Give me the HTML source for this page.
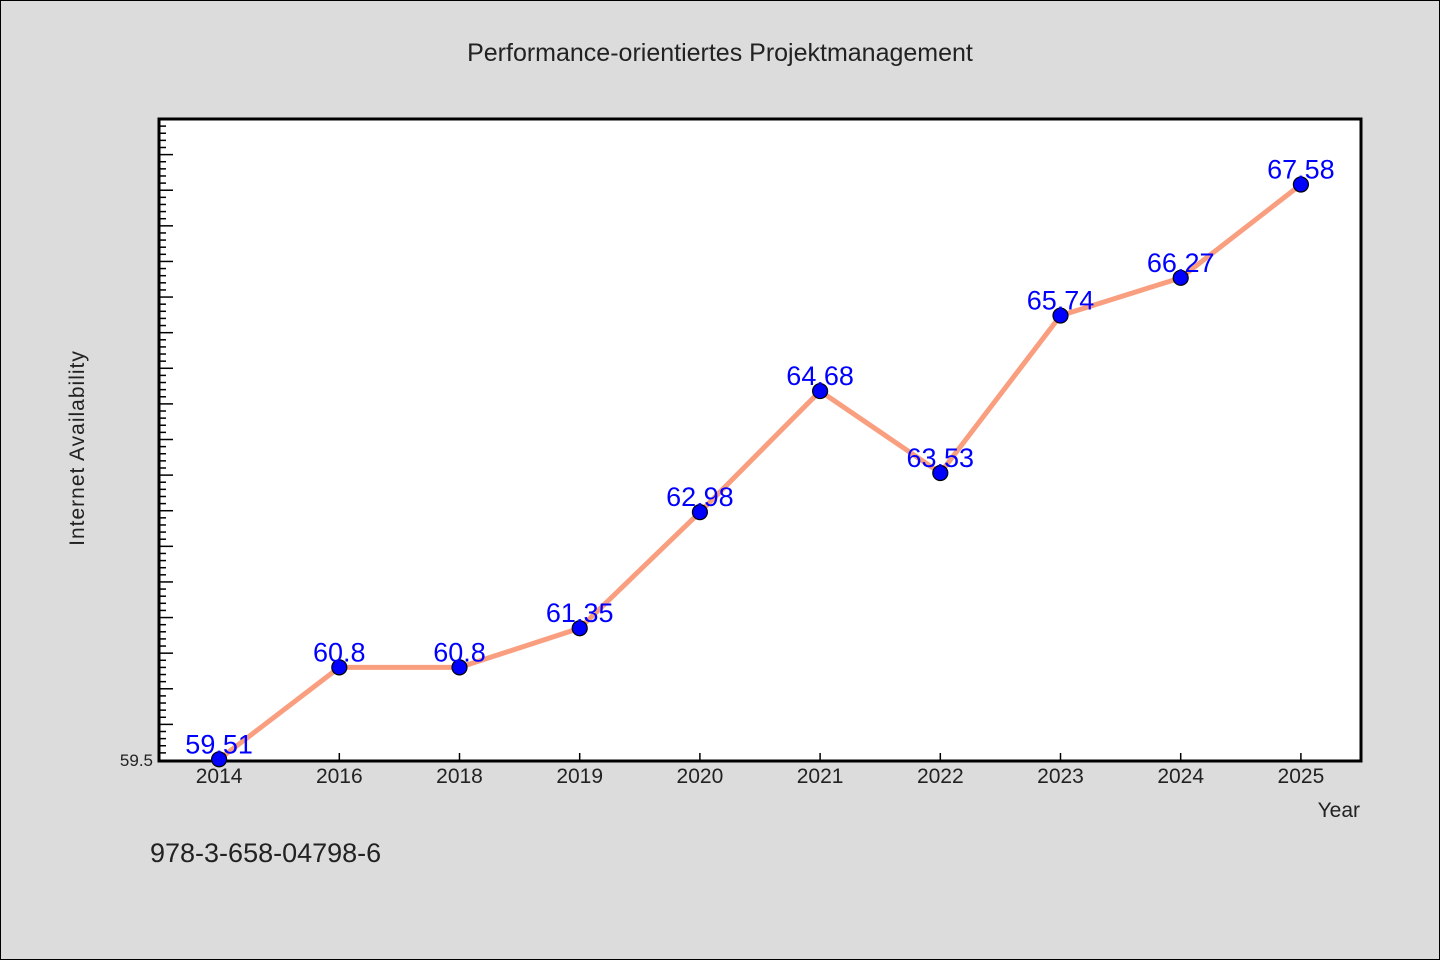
<!DOCTYPE html>
<html><head><meta charset="utf-8"><style>
body{margin:0;background:#dcdcdc;}
svg{display:block;font-family:"WenQuanYi Zen Hei","Liberation Sans",sans-serif;}
</style></head><body>
<svg id="chart" width="1440" height="960">
<rect x="0.5" y="0.5" width="1439" height="959" fill="#dcdcdc" stroke="#000"/>
<text x="720" y="61" text-anchor="middle" font-size="25" fill="#222">Performance-orientiertes Projektmanagement</text>
<rect x="159" y="119" width="1202" height="642" fill="#fff" stroke="#000" stroke-width="3"/>
<g id="ticks"></g>
<g id="marks"></g>
<text x="84" y="448" transform="rotate(-90 84 448)" text-anchor="middle" font-size="21" fill="#222" letter-spacing="1">Internet Availability</text>
<text x="1360" y="817" text-anchor="end" font-size="21" fill="#222">Year</text>
<text x="150" y="862" font-size="27" fill="#222">978-3-658-04798-6</text>
</svg>
<script>
const categories=["2014","2016","2018","2019","2020","2021","2022","2023","2024","2025"];
const values=[59.51,60.8,60.8,61.35,62.98,64.68,63.53,65.74,66.27,67.58];
const yTickLabels=["59.5"];
const yMin=59.5,yMax=68.5;
const L=159,R=1361,T=119,B=760;
const NS="http://www.w3.org/2000/svg";
const xs=i=>L+(i+0.5)*(R-L)/categories.length;
const ys=v=>B-(v-yMin)/(yMax-yMin)*(B-T);
function mk(tag,attrs,parent){const e=document.createElementNS(NS,tag);for(const k in attrs)e.setAttribute(k,attrs[k]);parent.appendChild(e);return e;}
const tg=document.getElementById('ticks'),mg=document.getElementById('marks');
for(let k=1;k<=Math.round((yMax-yMin)*10);k++){
  const v=yMin+k*0.1,y=ys(v),len=(k%5===0)?14:7;
  const t=mk('line',{x1:L,x2:L+len,y1:y,y2:y,stroke:'#000','stroke-width':1.5},tg);
  
  
}
yTickLabels.forEach(s=>{
  const t=mk('text',{x:L-6,y:ys(parseFloat(s))+6,'text-anchor':'end','font-size':17,fill:'#222'},tg);
  t.textContent=s;
  
  
});
categories.forEach((c,i)=>{
  const x=xs(i);
  const t=mk('line',{x1:x,x2:x,y1:B-7,y2:B,stroke:'#000','stroke-width':1.5},tg);
  
  
  const l=mk('text',{x:x,y:B+23,'text-anchor':'middle','font-size':21,fill:'#222'},tg);
  l.textContent=c;
  
  
});
const line=mk('polyline',{points:values.map((v,i)=>xs(i)+','+ys(v)).join(' '),fill:'none',stroke:'#f99f7f','stroke-width':5,'stroke-linejoin':'round'},mg);


values.forEach((v,i)=>{
  const p=mk('circle',{cx:xs(i),cy:ys(v),r:7.5,fill:'#0000ff',stroke:'#000','stroke-width':1.2},mg);
  
  
});
values.forEach((v,i)=>{
  const t=mk('text',{x:xs(i),y:ys(v)-6,'text-anchor':'middle','font-size':27,fill:'#0000ff'},mg);
  t.textContent=String(v);
  
  
});
</script>
</body></html>
